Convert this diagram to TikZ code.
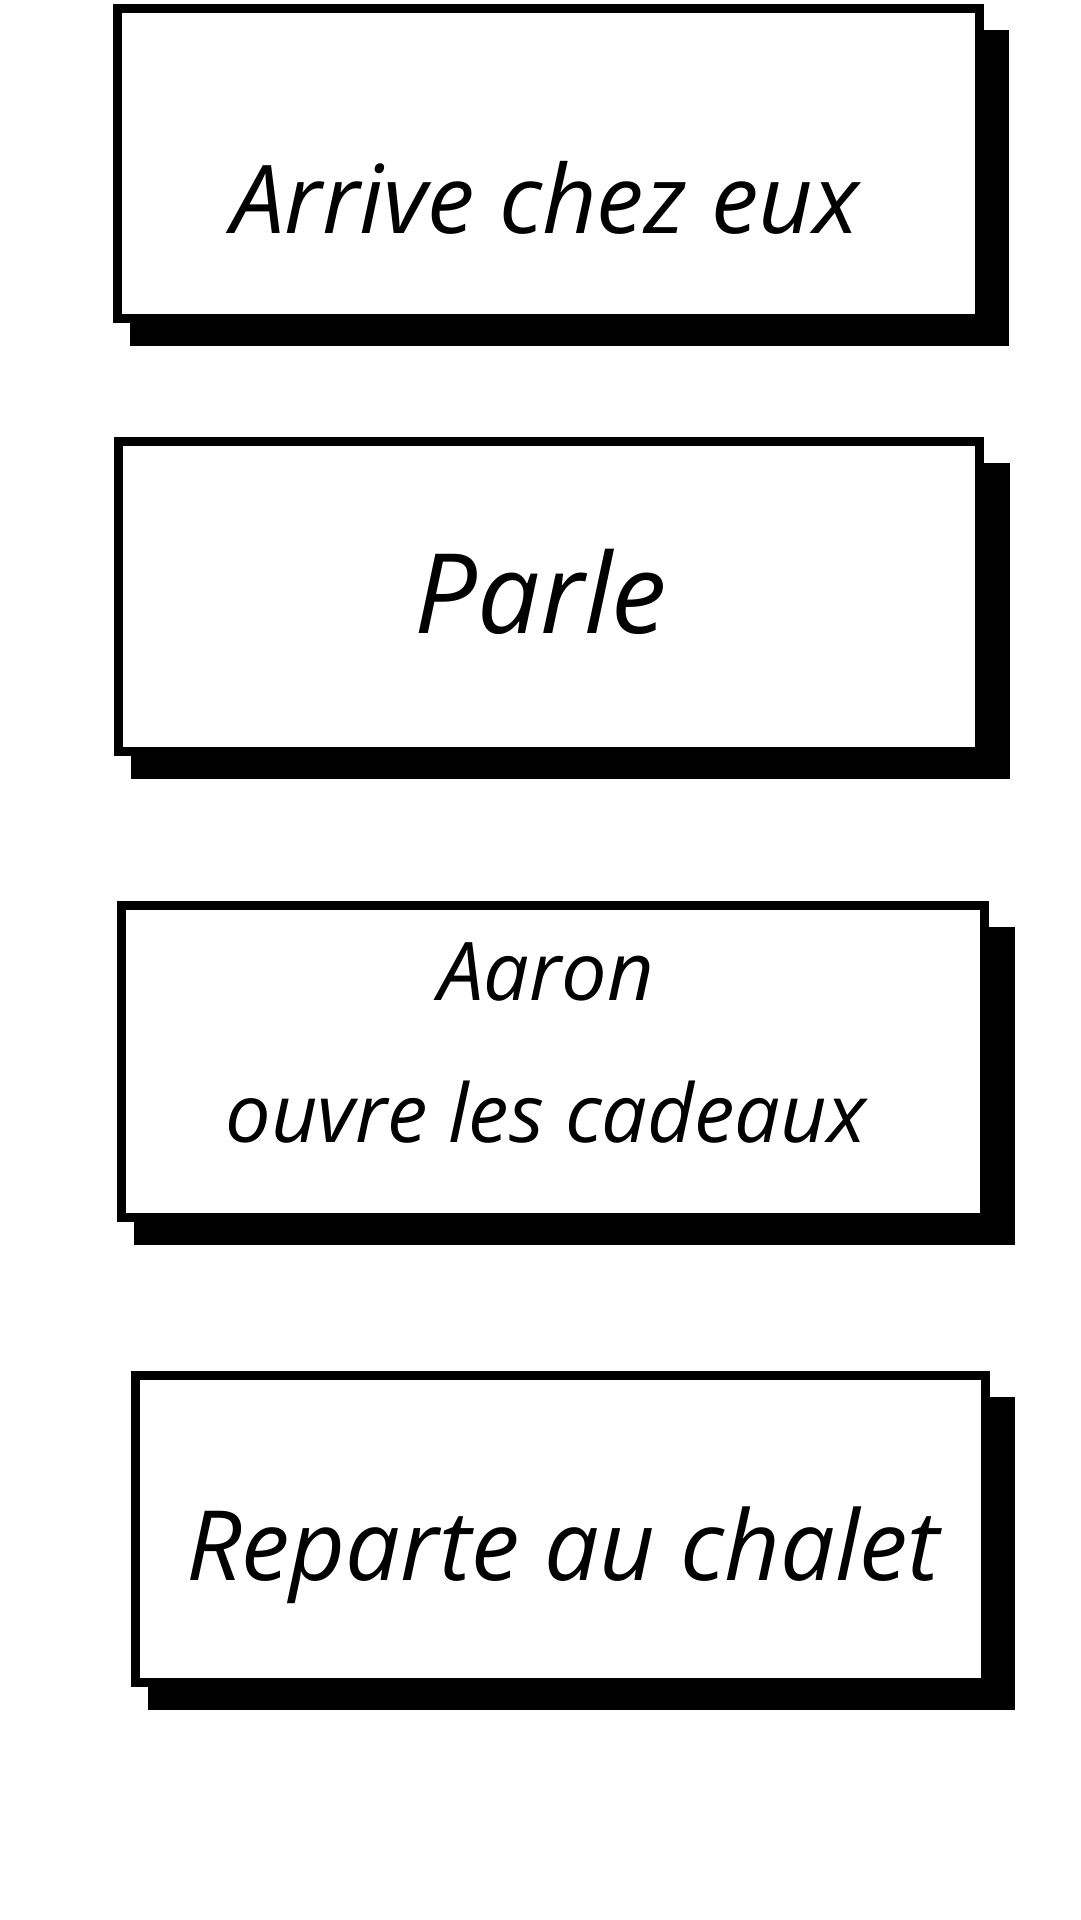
\documentclass[tikz,border=0pt]{standalone}
\usepackage{fontspec}
\setmainfont{Open Sans}
\usetikzlibrary{shadows}
\tikzset{
  card/.style={
    rectangle,
    draw=black,
    fill=white,
    line width=9pt,
    minimum width=#1,
    minimum height=310pt,
    inner sep=0pt,
    drop shadow={shadow xshift=21pt, shadow yshift=-24pt,
                 shadow scale=1.02, opacity=1, fill=black},
  },
  card/.default=862pt,
  hand/.style={
    font=\itshape\fontsize{#1}{142pt}\selectfont,
    anchor=base,
    align=center,
    inner sep=0pt,
  },
  hand/.default=95pt
}
\begin{document}
\begin{tikzpicture}[x=1pt,y=-1pt]
\useasboundingbox (0,0) rectangle (1080,1920);

\node[card] (arrive) at (548,163.5) {};
\node[hand] (arrive-text) at (545,233) {Arrive chez eux};

\node[card=861pt] (parle) at (549,596.5) {};
\node[hand=111pt] (parle-text) at (541,633) {Parle};

\node[card=863pt, minimum height=312pt] (aaron) at (553,1061.5) {};
\node[hand=81pt, anchor=center] (aaron-text) at (546,1042.5) {Aaron\\ouvre les cadeaux};

\node[card=850pt, minimum height=307pt] (reparte) at (560.5,1529) {};
\node[hand=97pt] (reparte-text) at (563,1580) {Reparte au chalet};
\end{tikzpicture}
\end{document}
